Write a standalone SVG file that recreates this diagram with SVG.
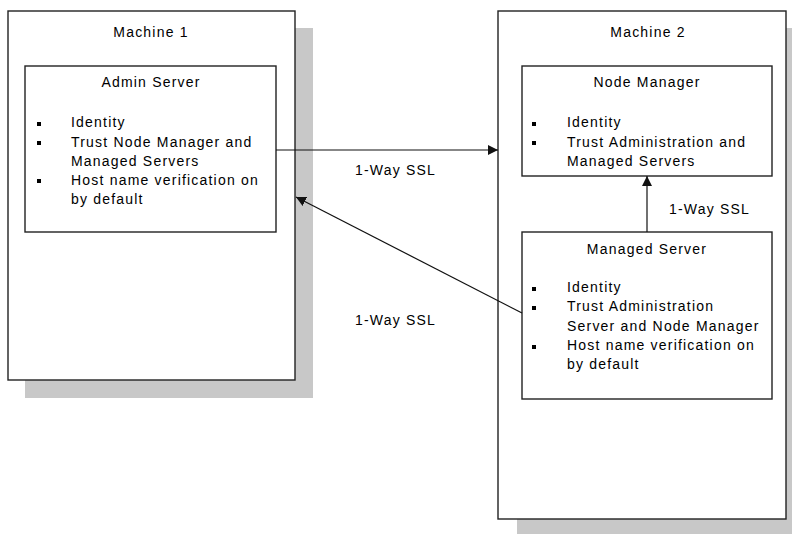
<svg xmlns="http://www.w3.org/2000/svg" width="792" height="534" viewBox="0 0 792 534">
<style>
text{font-family:"Liberation Sans",Arial,sans-serif;font-size:14px;letter-spacing:1.2px;fill:#000}
.t{text-anchor:middle}
.box{fill:#fff;stroke:#222;stroke-width:1.4}
.sh{fill:#c8c8c8}
.b{fill:#000}
.con{stroke:#111;stroke-width:1.2;fill:none}
</style>
<defs>
<marker id="ah" viewBox="0 0 10 10" refX="10" refY="5" markerWidth="10" markerHeight="10" markerUnits="userSpaceOnUse" orient="auto">
<path d="M0,0 L10,5 L0,10 Z" fill="#111"/>
</marker>
</defs>
<g id="machine1">
<rect class="sh" x="25" y="28" width="288" height="370"/>
<rect class="box" x="8" y="11" width="287" height="369"/>
<text class="t" x="151" y="37">Machine 1</text>
</g>
<g id="machine2">
<rect class="sh" x="517" y="28" width="275" height="506"/>
<rect class="box" x="498" y="11" width="288" height="508"/>
<text class="t" x="648" y="37">Machine 2</text>
</g>
<g id="admin-server">
<rect class="box" x="25" y="66" width="251" height="166"/>
<text class="t" x="151" y="87">Admin Server</text>
<rect class="b" x="37" y="122" width="4" height="4"/>
<rect class="b" x="37" y="141" width="4" height="4"/>
<rect class="b" x="37" y="179" width="4" height="4"/>
<text x="71" y="127">Identity</text>
<text x="71" y="147">Trust Node Manager and</text>
<text x="71" y="166">Managed Servers</text>
<text x="71" y="185">Host name verification on</text>
<text x="71" y="204">by default</text>
</g>
<g id="node-manager">
<rect class="box" x="522" y="66" width="250" height="110"/>
<text class="t" x="647" y="87">Node Manager</text>
<rect class="b" x="532" y="122" width="4" height="4"/>
<rect class="b" x="532" y="141" width="4" height="4"/>
<text x="567" y="127">Identity</text>
<text x="567" y="147">Trust Administration and</text>
<text x="567" y="166">Managed Servers</text>
</g>
<g id="managed-server">
<rect class="box" x="522" y="232" width="250" height="167"/>
<text class="t" x="647" y="254">Managed Server</text>
<rect class="b" x="532" y="287" width="4" height="4"/>
<rect class="b" x="532" y="306" width="4" height="4"/>
<rect class="b" x="532" y="345" width="4" height="4"/>
<text x="567" y="292">Identity</text>
<text x="567" y="311">Trust Administration</text>
<text x="567" y="331">Server and Node Manager</text>
<text x="567" y="350">Host name verification on</text>
<text x="567" y="369">by default</text>
</g>
<g id="connectors">
<line class="con" x1="276" y1="150" x2="498" y2="150" marker-end="url(#ah)"/>
<text x="355" y="175">1-Way SSL</text>
<line class="con" x1="522" y1="313" x2="296" y2="197" marker-end="url(#ah)"/>
<text x="355" y="325">1-Way SSL</text>
<line class="con" x1="647" y1="232" x2="647" y2="176" marker-end="url(#ah)"/>
<text x="669" y="214">1-Way SSL</text>
</g>
</svg>
